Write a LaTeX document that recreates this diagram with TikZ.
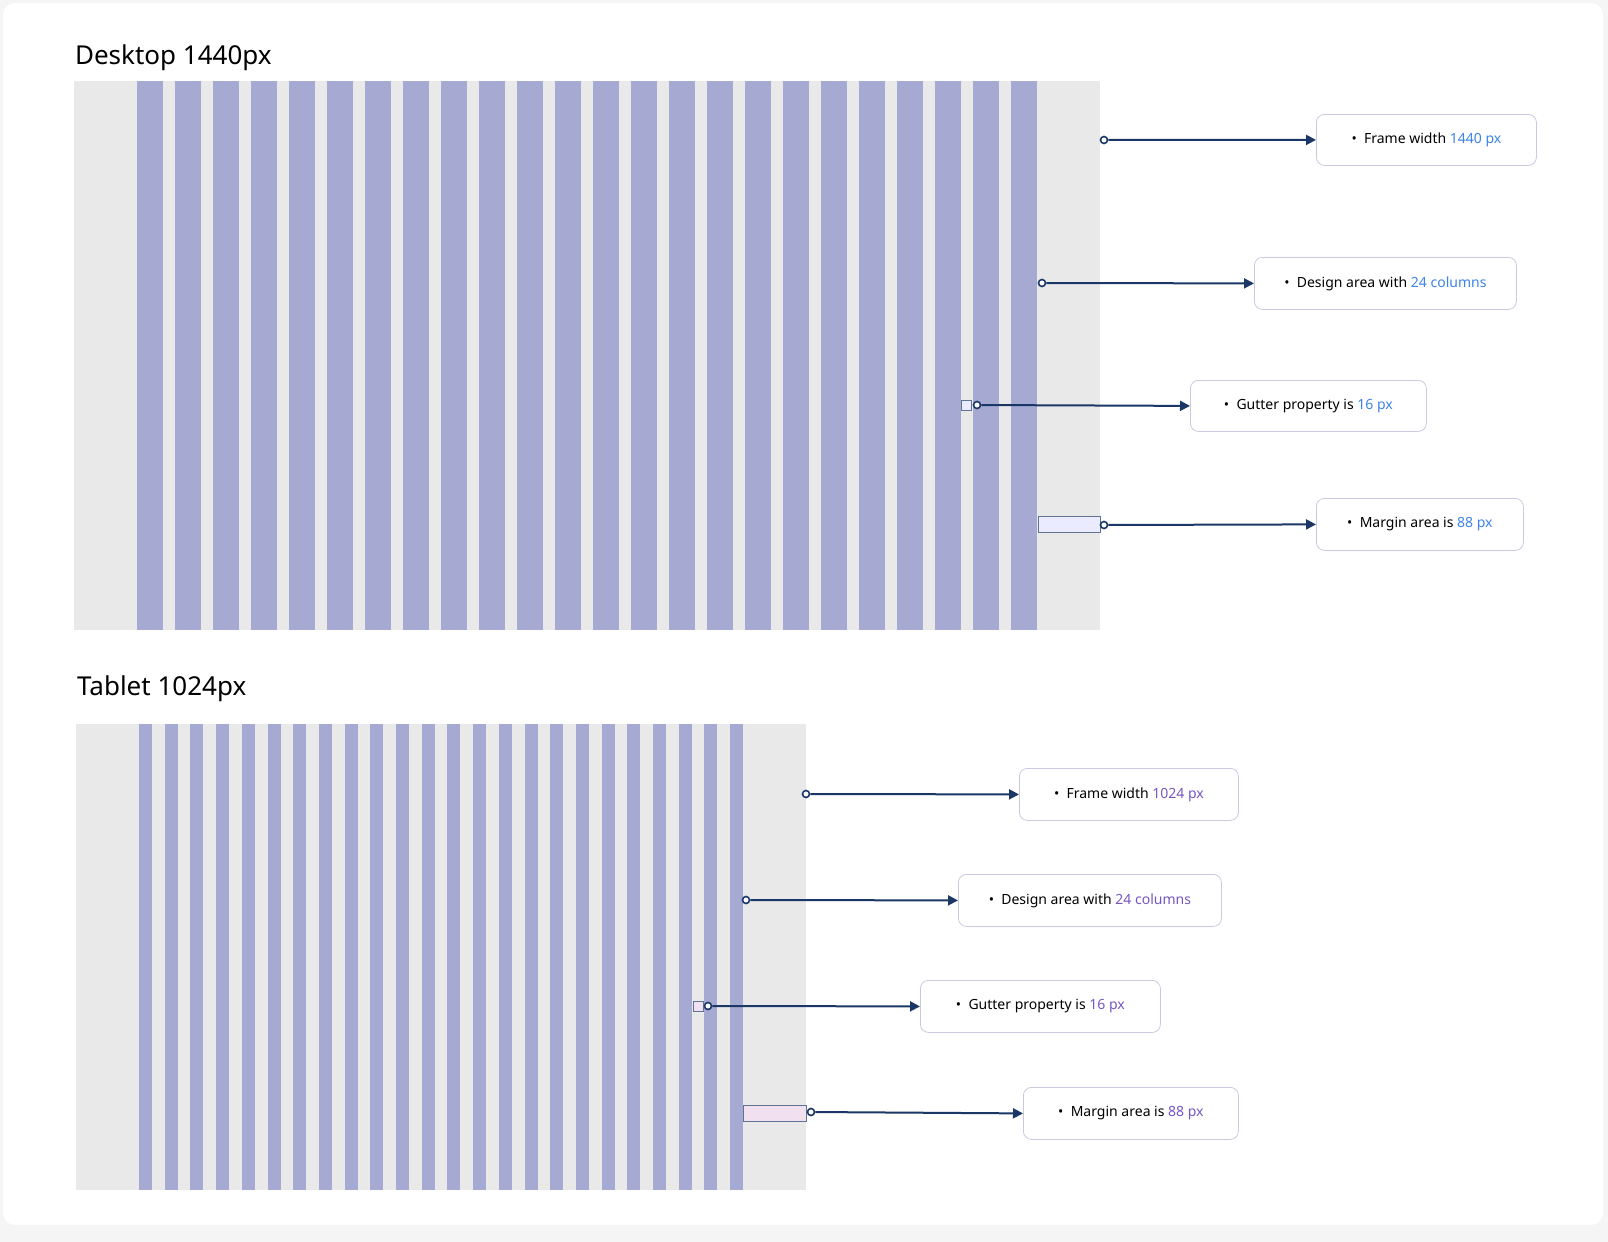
\documentclass[tikz,border=0pt]{standalone}
\usepackage{fontspec}
\setmainfont{Noto Sans}
\usetikzlibrary{arrows.meta, positioning}
\definecolor{colfill}{HTML}{A6A9D1}
\definecolor{framegray}{HTML}{E9E9E9}
\definecolor{navy}{HTML}{1B3766}
\definecolor{hlblue}{HTML}{3D84E6}
\definecolor{hlpurple}{HTML}{7657C2}
\definecolor{boxline}{HTML}{C9CAE0}

\begin{document}
\begin{tikzpicture}[
    x=0.5pt, y=-0.5pt,
    infobox/.style={rectangle, rounded corners=4pt, draw=boxline, fill=white, anchor=north west, inner sep=0pt, font=\fontsize{7}{8}\selectfont\bfseries},
    pointer/.style={navy, line width=1pt, -{Triangle[length=5pt, width=5pt]}},
    dot/.style={circle, draw=navy, line width=0.8pt, fill=white, inner sep=0pt, minimum size=3.5pt},
    title/.style={anchor=west, font=\fontsize{13}{15}\selectfont}
]

% Background
\fill[gray!8] (0,0) rectangle (1608,1242);
\fill[white, rounded corners=6pt] (3,3) rectangle (1603,1225);
\useasboundingbox (0,0) rectangle (1608,1242);

% Desktop
\node[title] (desktopTitle) at (68,58) {Desktop 1440px};
\fill[framegray] (74,81) rectangle (1100,630);
\foreach \i in {0,...,23}
    \fill[colfill] ({137+38*\i},81) rectangle ({163+38*\i},630);

\node[infobox, minimum width=110pt, minimum height=25.5pt] (dFrame) at (1316,114) {\textbullet\ \ Frame width \textcolor{hlblue}{1440 px}};
\node[infobox, minimum width=131pt, minimum height=26pt] (dDesign) at (1254,257) {\textbullet\ \ Design area with \textcolor{hlblue}{24 columns}};
\node[infobox, minimum width=118pt, minimum height=25.5pt] (dGutter) at (1190,380) {\textbullet\ \ Gutter property is \textcolor{hlblue}{16 px}};
\node[infobox, minimum width=103.5pt, minimum height=26pt] (dMargin) at (1316,498) {\textbullet\ \ Margin area is \textcolor{hlblue}{88 px}};

\draw[navy!70, fill=blue!8, line width=0.5pt] (961,400) rectangle (971,410);
\draw[navy!70, fill=blue!8, line width=0.5pt] (1038,516) rectangle (1100,532);

\node[dot] (dFrameDot) at (1104,140) {};
\node[dot] (dDesignDot) at (1042,283) {};
\node[dot] (dGutterDot) at (977,405) {};
\node[dot] (dMarginDot) at (1104,525) {};

\draw[pointer] (dFrameDot) -- (dFrame.west);
\draw[pointer] (dDesignDot) -- (dDesign.west);
\draw[pointer] (dGutterDot) -- (dGutter.west);
\draw[pointer] (dMarginDot) -- (dMargin.west);

% Tablet
\node[title] (tabletTitle) at (70,689) {Tablet 1024px};
\fill[framegray] (76,724) rectangle (806,1190);
\foreach \i in {0,...,23}
    \fill[colfill] ({139+25.7*\i},724) rectangle ({152+25.7*\i},1190);

\node[infobox, minimum width=109.5pt, minimum height=26pt] (tFrame) at (1019,768) {\textbullet\ \ Frame width \textcolor{hlpurple}{1024 px}};
\node[infobox, minimum width=131.5pt, minimum height=26pt] (tDesign) at (958,874) {\textbullet\ \ Design area with \textcolor{hlpurple}{24 columns}};
\node[infobox, minimum width=120pt, minimum height=26pt] (tGutter) at (920,980) {\textbullet\ \ Gutter property is \textcolor{hlpurple}{16 px}};
\node[infobox, minimum width=107.5pt, minimum height=26pt] (tMargin) at (1023,1087) {\textbullet\ \ Margin area is \textcolor{hlpurple}{88 px}};

\draw[navy!70, fill=violet!12, line width=0.5pt] (693,1001) rectangle (703,1011);
\draw[navy!70, fill=violet!12, line width=0.5pt] (743,1105) rectangle (806,1121);

\node[dot] (tFrameDot) at (806,794) {};
\node[dot] (tDesignDot) at (746,900) {};
\node[dot] (tGutterDot) at (708,1006) {};
\node[dot] (tMarginDot) at (811,1112) {};

\draw[pointer] (tFrameDot) -- (tFrame.west);
\draw[pointer] (tDesignDot) -- (tDesign.west);
\draw[pointer] (tGutterDot) -- (tGutter.west);
\draw[pointer] (tMarginDot) -- (tMargin.west);

\end{tikzpicture}
\end{document}
